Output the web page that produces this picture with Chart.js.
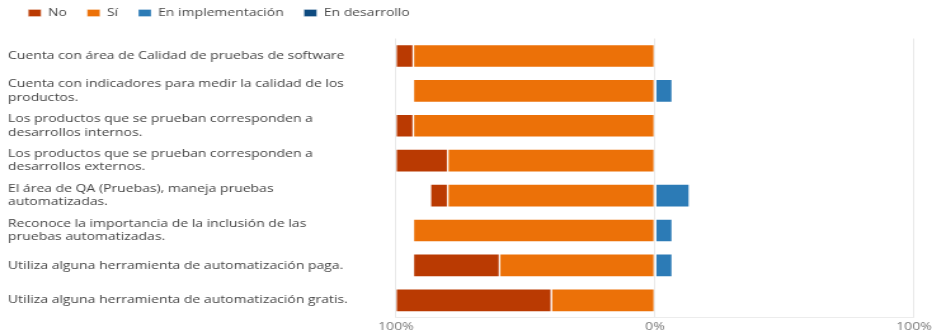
<!DOCTYPE html>
<html>
<head>
<meta charset="utf-8">
<script src="https://cdn.jsdelivr.net/npm/chart.js@4/dist/chart.umd.min.js"></script>
<style>
  html, body { margin: 0; padding: 0; background: #fff; overflow: hidden; }
  /* chart is laid out narrower and widened to the 932px frame */
  #wrap { width: 734px; height: 335px; transform: scaleX(1.2698); transform-origin: 0 0; }
</style>
</head>
<body>
<div id="wrap"><canvas id="likertChart"></canvas></div>
<script>
// Survey statements (multi-line ones are pre-wrapped)
const questions = [
    'Cuenta con área de Calidad de pruebas de software',
    ['Cuenta con indicadores para medir la calidad de los', 'productos.'],
    ['Los productos que se prueban corresponden a', 'desarrollos internos.'],
    ['Los productos que se prueban corresponden a', 'desarrollos externos.'],
    ['El área de QA (Pruebas), maneja pruebas', 'automatizadas.'],
    ['Reconoce la importancia de la inclusión de las', 'pruebas automatizadas.'],
    'Utiliza alguna herramienta de automatización paga.',
    'Utiliza alguna herramienta de automatización gratis.'
];

// Share of answers per statement, in percent
const noValues = [6.7, 0, 6.7, 20, 6.7, 0, 33.3, 60];
const siValues = [93.3, 93.3, 93.3, 80, 80, 93.3, 60, 40];
const implValues = [0, 6.7, 0, 0, 13.3, 6.7, 6.7, 0];
const desarrolloValues = [0, 0, 0, 0, 0, 0, 0, 0];

const tickValues = [-100, 0, 100];

const FONT = '"Open Sans", "Noto Sans", sans-serif';

// "No" and "Sí" go to the left of zero, the rest to the right.
// Sí is stacked first so it sits next to the zero line.
function buildDatasets() {
    return [
        { label: 'Sí', data: siValues.map(v => -v), backgroundColor: '#EC7108', rank: 1 },
        { label: 'No', data: noValues.map(v => -v), backgroundColor: '#BA3A02', rank: 0 },
        { label: 'En implementación', data: implValues, backgroundColor: '#2C7BB6', rank: 2 },
        { label: 'En desarrollo', data: desarrolloValues, backgroundColor: '#0E4B80', rank: 3 }
    ].map(ds => Object.assign(ds, {
        borderColor: 'rgba(255,255,255,0.3)',
        borderWidth: 1,
        borderSkipped: false,
        barThickness: 23
    }));
}

// Extra room under the legend, independent of the item spacing
const legendGap = {
    id: 'legendGap',
    beforeLayout(chart) {
        const legend = chart.legend;
        if (legend && !legend._gapPatched) {
            const fit = legend.fit;
            legend.fit = function () {
                fit.call(this);
                this.height += 10;
            };
            legend._gapPatched = true;
        }
    }
};

function renderChart() {
    const ctx = document.getElementById('likertChart').getContext('2d');
    const datasets = buildDatasets();

    new Chart(ctx, {
        type: 'bar',
        data: { labels: questions, datasets: datasets },
        plugins: [legendGap],
        options: {
            indexAxis: 'y',
            responsive: true,
            maintainAspectRatio: false,
            animation: false,
            layout: { padding: { left: 6.3, right: 14.2, top: -8.5, bottom: 0 } },
            plugins: {
                tooltip: { enabled: false },
                legend: {
                    position: 'top',
                    align: 'start',
                    labels: {
                        boxWidth: 10,
                        boxHeight: 7,
                        padding: 16,
                        color: '#4a4a4a',
                        font: { family: FONT, size: 11 },
                        sort: (a, b) => datasets[a.datasetIndex].rank - datasets[b.datasetIndex].rank
                    }
                }
            },
            scales: {
                x: {
                    stacked: true,
                    min: -100,
                    max: 100,
                    afterBuildTicks: scale => { scale.ticks = tickValues.map(v => ({ value: v })); },
                    // keep the end labels from pushing the plot inwards
                    afterFit: scale => { scale.paddingLeft = 0; scale.paddingRight = 0; },
                    grid: { color: '#e8e8e8', drawTicks: false },
                    border: { display: true, color: '#ececec' },
                    ticks: {
                        padding: 2,
                        color: '#777',
                        font: { family: FONT, size: 11 },
                        callback: v => Math.abs(v) + '%'
                    }
                },
                y: {
                    stacked: true,
                    grid: { display: false },
                    border: { display: false },
                    afterFit: scale => { scale.width = 305.5; },
                    ticks: {
                        crossAlign: 'far',
                        color: '#444',
                        font: { family: FONT, size: 11, lineHeight: 1.2 }
                    }
                }
            }
        }
    });
}

renderChart();
</script>
</body>
</html>
